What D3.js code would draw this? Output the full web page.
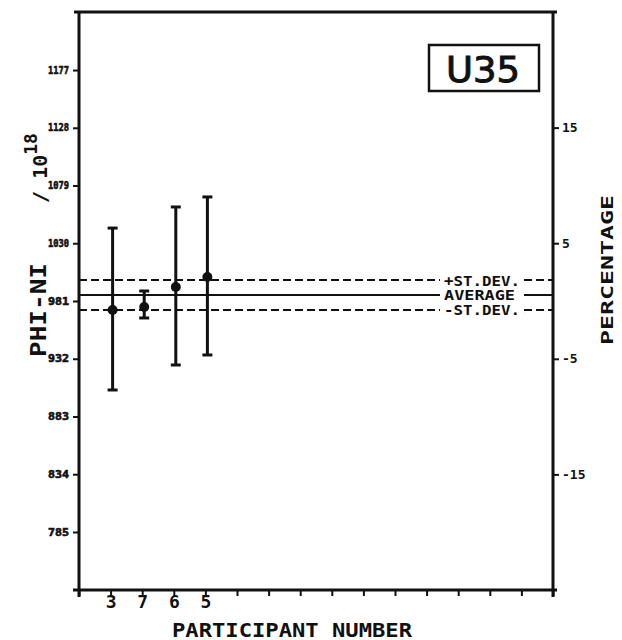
<!DOCTYPE html>
<html>
<head>
<meta charset="utf-8">
<script src="https://cdn.jsdelivr.net/npm/d3@7"></script>
<style>
  html, body { margin: 0; padding: 0; background: #fff; }
  svg { display: block; }
  text { font-family: "DejaVu Sans Mono", monospace; font-weight: bold; fill: #111; }
</style>
</head>
<body>
<svg id="chart" width="622" height="640"></svg>
<script>
// Participant results for sample U35 (PHI-NI / 1e18)
const participants = ["3", "7", "6", "5"];
const means = [973.4, 975.9, 992.9, 1001.4];
const upper = [1042.9, 989.5, 1060.8, 1069.3];
const lower = [905.5, 966.6, 926.7, 935.2];

const average = 986.1;
const stDev = 12.7;
const reference = 981;               // value taken as 0 %

const leftTicks = [785, 834, 883, 932, 981, 1030, 1079, 1128, 1177];
const rightTicks = [15, 5, -5, -15];
const xTickCount = 15;

const svg = d3.select("#chart");
const ink = "#111";

const xLeft = 79, xRight = 553, yTop = 12, yBottom = 590;

const x = d3.scaleLinear().domain([0, xTickCount]).range([xLeft, xRight]);
const y = d3.scaleLinear().domain([reference * 0.75, reference * 1.25]).range([yBottom, yTop]);
const yPct = d3.scaleLinear().domain([-25, 25]).range([yBottom, yTop]);

// frame top
svg.append("line").attr("x1", xLeft - 5).attr("x2", xRight + 4)
  .attr("y1", yTop).attr("y2", yTop).attr("stroke", ink).attr("stroke-width", 3);

// left axis
const leftAxis = d3.axisLeft(y).tickValues(leftTicks).tickSize(6).tickPadding(4)
  .tickFormat(d3.format("d"));
const gl = svg.append("g").attr("transform", `translate(${xLeft},0)`).call(leftAxis);
gl.select(".domain").remove();
gl.selectAll(".tick line").attr("stroke", ink).attr("stroke-width", 2);
gl.selectAll(".tick text").attr("font-size", 10).attr("textLength", 21)
  .attr("lengthAdjust", "spacingAndGlyphs").attr("stroke", ink).attr("stroke-width", 0.6)
  .style("font-family", "DejaVu Sans Mono").style("font-weight", "bold");
svg.append("line").attr("x1", xLeft).attr("x2", xLeft)
  .attr("y1", yTop - 1).attr("y2", yBottom + 7).attr("stroke", ink).attr("stroke-width", 3);

// right axis (percentage)
const rightAxis = d3.axisRight(yPct).tickValues(rightTicks).tickSize(6).tickPadding(3)
  .tickFormat(d => d < 0 ? "-" + Math.abs(d) : String(d));
const gr = svg.append("g").attr("transform", `translate(${xRight},0)`).call(rightAxis);
gr.select(".domain").remove();
gr.selectAll(".tick line").attr("stroke", ink).attr("stroke-width", 2);
gr.selectAll(".tick text").attr("font-size", 13)
  .style("font-family", "DejaVu Sans Mono").style("font-weight", "bold");
svg.append("line").attr("x1", xRight).attr("x2", xRight)
  .attr("y1", yTop - 1).attr("y2", yBottom + 7).attr("stroke", ink).attr("stroke-width", 3);

// bottom axis
const bottomAxis = d3.axisBottom(x).ticks(xTickCount).tickSize(6)
  .tickFormat(d => (d >= 1 && d <= participants.length) ? participants[d - 1] : "");
const gb = svg.append("g").attr("transform", `translate(0,${yBottom})`).call(bottomAxis);
gb.select(".domain").remove();
gb.selectAll(".tick line").attr("stroke", ink).attr("stroke-width", 2);
gb.selectAll(".tick text").attr("font-size", 18).attr("dy", "0.5em")
  .style("font-family", "DejaVu Sans Mono").style("font-weight", "bold");
svg.append("line").attr("x1", xLeft - 6).attr("x2", xRight + 4)
  .attr("y1", yBottom).attr("y2", yBottom).attr("stroke", ink).attr("stroke-width", 3);

// reference lines with their labels
const labelX0 = 440, labelX1 = 524;
const refLines = [
  { value: average + stDev, label: "+ST.DEV.", dash: "8,4" },
  { value: average,         label: "AVERAGE",  dash: null },
  { value: average - stDev, label: "-ST.DEV.", dash: "8,4" }
];
refLines.forEach(r => {
  [[xLeft, labelX0], [labelX1, xRight]].forEach(([a, b]) => {
    svg.append("line").attr("x1", a).attr("x2", b)
      .attr("y1", y(r.value)).attr("y2", y(r.value))
      .attr("stroke", ink).attr("stroke-width", 2)
      .attr("stroke-dasharray", r.dash);
  });
  svg.append("text").attr("x", labelX0 + 4).attr("y", y(r.value) + 5.5)
    .attr("font-size", 14).attr("textLength", r.label.length === 8 ? 76 : 71)
    .attr("lengthAdjust", "spacingAndGlyphs").text(r.label);
});

// error bars and means
const capW = 5;
participants.forEach((p, i) => {
  const cx = x(i + 1) + 2;
  svg.append("line").attr("x1", cx).attr("x2", cx)
    .attr("y1", y(upper[i])).attr("y2", y(lower[i]))
    .attr("stroke", ink).attr("stroke-width", 3);
  [upper[i], lower[i]].forEach(v => {
    svg.append("line").attr("x1", cx - capW).attr("x2", cx + capW)
      .attr("y1", y(v)).attr("y2", y(v)).attr("stroke", ink).attr("stroke-width", 3);
  });
  svg.append("circle").attr("cx", cx).attr("cy", y(means[i])).attr("r", 5).attr("fill", ink);
});

// sample identifier box
svg.append("rect").attr("x", 429).attr("y", 45).attr("width", 110).attr("height", 46)
  .attr("fill", "none").attr("stroke", ink).attr("stroke-width", 2.5);
svg.append("text").attr("x", 483).attr("y", 82).attr("text-anchor", "middle")
  .attr("font-size", 35).attr("textLength", 74).attr("lengthAdjust", "spacingAndGlyphs")
  .style("font-family", "DejaVu Sans").style("font-weight", "normal")
  .attr("stroke", ink).attr("stroke-width", 1).text("U35");

// axis titles
svg.append("text").attr("transform", "translate(46,310) rotate(-90)")
  .attr("text-anchor", "middle").attr("font-size", 21)
  .attr("textLength", 94).attr("lengthAdjust", "spacingAndGlyphs").text("PHI-NI");
const unit = svg.append("text").attr("transform", "translate(47,168) rotate(-90)")
  .attr("text-anchor", "middle").attr("font-size", 20);
unit.append("tspan").text("/ 10");
unit.append("tspan").attr("dy", -10).attr("font-size", 18).text("18");

svg.append("text").attr("transform", "translate(613,270) rotate(-90)")
  .attr("text-anchor", "middle").attr("font-size", 16)
  .attr("textLength", 150).attr("lengthAdjust", "spacingAndGlyphs").text("PERCENTAGE");

svg.append("text").attr("x", 292).attr("y", 637).attr("text-anchor", "middle")
  .attr("font-size", 19).attr("textLength", 240).attr("lengthAdjust", "spacingAndGlyphs")
  .text("PARTICIPANT NUMBER");
</script>
</body>
</html>
